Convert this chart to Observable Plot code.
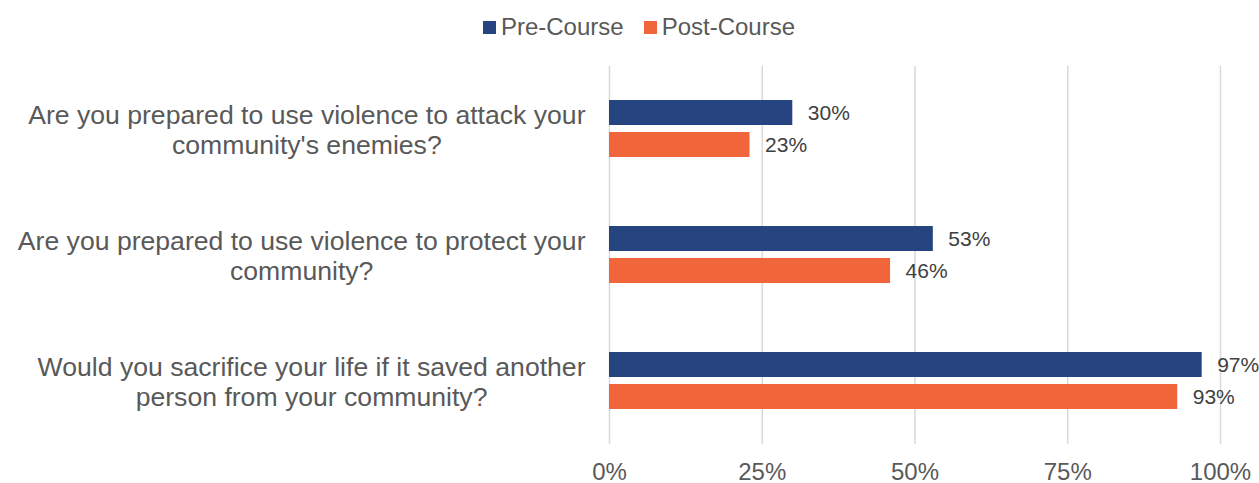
<!DOCTYPE html>
<html>
<head>
<meta charset="utf-8">
<script src="https://cdn.jsdelivr.net/npm/d3@7"></script>
<script src="https://cdn.jsdelivr.net/npm/@observablehq/plot@0.6"></script>
<style>
  html, body { margin: 0; padding: 0; background: #fff; }
  body { width: 1259px; height: 483px; overflow: hidden; font-family: "Liberation Sans", Arial, sans-serif; }
  #legend { box-sizing: border-box; height: 50px; padding-top: 4px; padding-left: 19px; display: flex; justify-content: center; align-items: center; font-size: 24px; color: #595959; }
  .item { display: flex; align-items: center; margin: 0 10px; }
  .sw { width: 13px; height: 13px; margin-right: 5px; }
</style>
</head>
<body>
<div id="legend"></div>
<div id="chart"></div>
<script>
const questions = [
  "Are you prepared to use violence to attack your\ncommunity's enemies?",
  "Are you prepared to use violence to protect your\ncommunity?",
  "Would you sacrifice your life if it saved another\nperson from your community?"
];
const series = ["Pre-Course", "Post-Course"];
const preCourse = [30, 53, 97];
const postCourse = [23, 46, 93];
const xTicks = [0, 25, 50, 75, 100];
const colors = ["#264580", "#F1653A"];

const data = questions.flatMap((q, i) => [
  {question: q, series: series[0], value: preCourse[i]},
  {question: q, series: series[1], value: postCourse[i]}
]);

const legend = document.getElementById("legend");
series.forEach((s, i) => {
  const it = document.createElement("div");
  it.className = "item";
  const sw = document.createElement("div");
  sw.className = "sw";
  sw.style.background = colors[i];
  const tx = document.createElement("span");
  tx.textContent = s;
  it.appendChild(sw);
  it.appendChild(tx);
  legend.appendChild(it);
});

const labelFontSize = 26.6;
const ctx = document.createElement("canvas").getContext("2d");
ctx.font = `${labelFontSize}px "Liberation Sans", Arial, sans-serif`;
const labelWidth = q => Math.max(...q.split("\n").map(l => ctx.measureText(l).width));

const questionLabels = questions.map(q =>
  Plot.text([q], {
    fy: d => d, text: d => d, frameAnchor: "left", textAnchor: "middle",
    dx: -24 - labelWidth(q) / 2, fontSize: labelFontSize, lineHeight: 1.12, fill: "#595959"
  })
);

const chart = Plot.plot({
  width: 1259,
  height: 433,
  marginLeft: 609,
  marginRight: 39,
  marginTop: 15,
  marginBottom: 38,
  style: {fontFamily: "'Liberation Sans', Arial, sans-serif", background: "white", overflow: "visible"},
  x: {domain: [0, 100]},
  y: {domain: series, paddingInner: 0.212, paddingOuter: 1.03, axis: null},
  fy: {domain: questions, padding: 0, axis: null},
  color: {domain: series, range: colors},
  marks: [
    Plot.ruleX(xTicks, {stroke: "#d9d9d9", strokeWidth: 1.5}),
    Plot.barX(data, {x: "value", y: "series", fy: "question", fill: "series"}),
    Plot.text(data, {x: "value", y: "series", fy: "question", text: d => d.value + "%", textAnchor: "start", dx: 15, fontSize: 21, fill: "#404040"}),
    Plot.axisX(xTicks, {tickSize: 0, tickPadding: 18, tickFormat: d => d + "%", fontSize: 24, fill: "#595959", label: null}),
    ...questionLabels
  ]
});
document.getElementById("chart").appendChild(chart);
</script>
</body>
</html>
